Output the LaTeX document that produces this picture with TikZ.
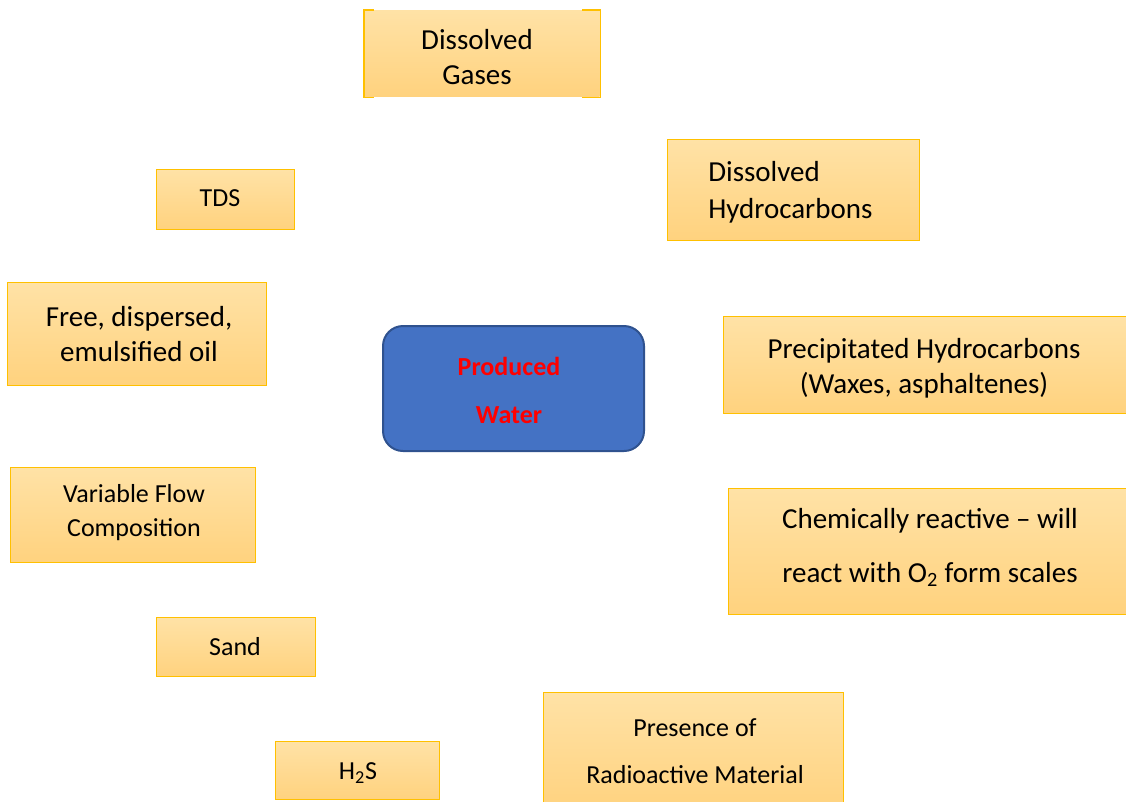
\documentclass[tikz,border=0pt]{standalone}
\usepackage{fontspec}
\setmainfont{Carlito}
\definecolor{boxtop}{HTML}{FFE2A6}
\definecolor{boxbot}{HTML}{FFD27E}
\definecolor{boxline}{HTML}{FFC000}
\definecolor{pwfill}{HTML}{4472C4}
\definecolor{pwline}{HTML}{2F528F}
\begin{document}
\begin{tikzpicture}[x=0.75pt,y=-0.75pt,
  box/.style={rectangle, top color=boxtop, bottom color=boxbot, draw=boxline, line width=1.1pt, inner sep=0pt, anchor=north west},
  boxnb/.style={box, draw=none},
  big/.style={font=\fontsize{21.75}{26.5}\selectfont, align=center, inner sep=0pt},
  small/.style={font=\fontsize{19.5}{25.5}\selectfont, align=center, inner sep=0pt},
  pw/.style={rectangle, rounded corners=15pt, fill=pwfill, draw=pwline, line width=1.5pt, inner sep=0pt, anchor=north west}
]
\useasboundingbox (0,0) rectangle (1126,801);

% Dissolved Gases (side borders only)
\node[boxnb, minimum width=235*0.75pt, minimum height=86*0.75pt] (gases) at (364,10) {};
\draw[boxline, line width=1.1pt] ([xshift=7.5pt]gases.north west) -- (gases.north west) -- (gases.south west) -- ([xshift=7.5pt]gases.south west);
\draw[boxline, line width=1.1pt] ([xshift=-13.5pt]gases.north east) -- (gases.north east) -- (gases.south east) -- ([xshift=-13.5pt]gases.south east);
\node[big] (gasest) at (477,57) {Dissolved\\Gases};

% TDS
\node[box, minimum width=138*0.75pt, minimum height=60*0.75pt] (tds) at (156,169) {};
\node[small] (tdst) at (220,198) {TDS};

% Dissolved Hydrocarbons
\node[box, minimum width=252*0.75pt, minimum height=101*0.75pt] (dhc) at (667,139) {};
\node[font=\fontsize{21.75}{28}\selectfont, align=left, anchor=west, inner sep=0pt] (dhct) at (708,192) {Dissolved\\Hydrocarbons};

% Free, dispersed, emulsified oil
\node[box, minimum width=259*0.75pt, minimum height=103*0.75pt] (oil) at (7,282) {};
\node[big] (oilt) at (139,334) {Free, dispersed,\\emulsified oil};

% Produced Water
\node[pw, minimum width=261*0.75pt, minimum height=125*0.75pt] (pwb) at (382,325) {};
\node[font=\fontsize{19.5}{36}\selectfont\bfseries, text=red, align=center, inner sep=0pt] (pwt) at (509,390) {Produced\\Water};

% Precipitated Hydrocarbons
\node[box, minimum width=420*0.75pt, minimum height=97*0.75pt] (phc) at (723,316) {};
\node[big] (phct) at (924,368) {Precipitated Hydrocarbons\\(Waxes, asphaltenes)};

% Variable Flow Composition
\node[box, minimum width=245*0.75pt, minimum height=95*0.75pt] (vfc) at (10,467) {};
\node[small] (vfct) at (134,513) {Variable Flow\\Composition};

% Chemically reactive
\node[box, minimum width=420*0.75pt, minimum height=126*0.75pt] (chem) at (728,488) {};
\node[font=\fontsize{21.75}{40.5}\selectfont, align=center, inner sep=0pt] (chemt) at (930,547) {Chemically reactive -- will\\react with O\textsubscript{2} form scales};

% Sand
\node[box, minimum width=159*0.75pt, minimum height=59*0.75pt] (sand) at (156,617) {};
\node[small] (sandt) at (235,647) {Sand};

% H2S
\node[box, minimum width=164*0.75pt, minimum height=58*0.75pt] (hs) at (275,741) {};
\node[small] (hst) at (358,773) {H\textsubscript{2}S};

% Radioactive
\node[box, minimum width=300*0.75pt, minimum height=120*0.75pt] (rad) at (543,692) {};
\node[font=\fontsize{19.5}{35.25}\selectfont, align=center, inner sep=0pt] (radt) at (695,751) {Presence of\\Radioactive Material};
\end{tikzpicture}
\end{document}
